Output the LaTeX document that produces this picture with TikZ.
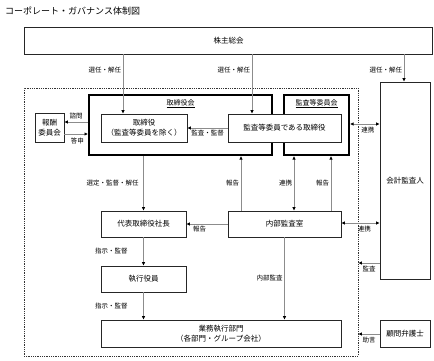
\documentclass[tikz,border=0pt]{standalone}
\usepackage{fontspec}
\setmainfont{Noto Sans CJK JP}
\usetikzlibrary{arrows.meta, positioning}

\begin{document}
\begin{tikzpicture}[
    x=1pt, y=-1pt,
    >={Latex[length=3.5pt, width=3.5pt, color=black]},
    unit/.style={rectangle, draw=black!85, fill=white, line width=0.8pt, inner sep=0pt, align=center, font=\fontsize{7.5}{10}\selectfont},
    board/.style={rectangle, draw=black, line width=2pt, inner sep=0pt},
    frame/.style={rectangle, draw=black!80, line width=0.8pt, dash pattern=on 1pt off 0.8pt, inner sep=0pt},
    link/.style={draw=black!45, line width=0.8pt},
    tag/.style={font=\fontsize{6.5}{8}\selectfont, inner sep=1.5pt}
]
\useasboundingbox (0,0) rectangle (434,360);

% Title
\node[anchor=west, font=\fontsize{9}{11}\selectfont, inner sep=0pt] (title) at (5,11) {コーポレート・ガバナンス体制図};

% Frame and committees
\node[frame, minimum width=334, minimum height=268] (frame) at (191,222) {};
\node[board, minimum width=183, minimum height=60] (board) at (180.5,125) {};
\node[board, minimum width=65, minimum height=60] (ace) at (316.5,125) {};
\node[tag, font=\fontsize{7}{9}\selectfont, below=4pt of board.north] (boardname) {\underline{取締役会}};
\node[tag, font=\fontsize{7}{9}\selectfont, below=4pt of ace.north] (acename) {\underline{監査等委員会}};

% Nodes
\node[unit, minimum width=408, minimum height=27] (agm) at (228.5,40.5) {株主総会};
\node[unit, minimum width=86, minimum height=28] (directors) at (144,128) {取締役\\（監査等委員を除く）};
\node[unit, minimum width=113, minimum height=28] (acdir) at (284.5,128) {監査等委員である取締役};
\node[unit, minimum width=29, minimum height=29] (comp) at (49.5,127.5) {報酬\\委員会};
\node[unit, minimum width=50, minimum height=197] (auditor) at (405,180.5) {会計監査人};
\node[unit, minimum width=85, minimum height=26] (ceo) at (143.5,224) {代表取締役社長};
\node[unit, minimum width=113, minimum height=26] (iad) at (284.5,224) {内部監査室};
\node[unit, minimum width=85, minimum height=26] (officers) at (143.5,279) {執行役員};
\node[unit, minimum width=240, minimum height=27] (ops) at (221,333.5) {業務執行部門\\（各部門・グループ会社）};
\node[unit, minimum width=50, minimum height=27] (lawyer) at (405,333.5) {顧問弁護士};

% Connectors
\draw[link, ->] (123,0 |- agm.south) -- node[tag, left, pos=0.27] {選任・解任} (123,0 |- directors.north);
\draw[link, ->] (252,0 |- agm.south) -- node[tag, left, pos=0.27] {選任・解任} (252,0 |- acdir.north);
\draw[link, ->] (404,0 |- agm.south) -- node[tag, left, pos=0.57] {選任・解任} (404,0 |- auditor.north);
\draw[link, ->] (board.west |- 0,122) -- node[tag, above, pos=0.5, yshift=1pt] {諮問} (comp.east |- 0,122);
\draw[link, ->] (comp.east |- 0,134) -- node[tag, below, pos=0.55, yshift=-2pt] {答申} (board.west |- 0,134);
\draw[link, ->] (acdir.west |- 0,128) -- node[tag, below, pos=0.5] {監査・監督} (directors.east |- 0,128);
\draw[link, <->] (ace.east |- 0,124) -- node[tag, below, pos=0.6, yshift=-1pt] {連携} (auditor.west |- 0,124);

\draw[link, ->] (board.south -| ceo.north) -- node[tag, left=3pt, pos=0.5] {選定・監督・解任} (ceo.north);
\draw[link, ->] (ceo) -- node[tag, left=14pt, pos=0.5] {指示・監督} (officers);
\draw[link, ->] (officers) -- node[tag, left=14pt, pos=0.5] {指示・監督} (officers.south |- ops.north);
\draw[link, ->] (iad.west) -- node[tag, below, pos=0.68] {報告} (ceo.east);
\draw[link, ->] (241,0 |- iad.north) -- node[tag, left, pos=0.5] {報告} (241,0 |- board.south);
\draw[link, <->] (294,0 |- iad.north) -- node[tag, left, pos=0.5] {連携} (294,0 |- ace.south);
\draw[link, ->] (331,0 |- iad.north) -- node[tag, left, pos=0.5] {報告} (331,0 |- ace.south);
\draw[link, <->] (iad.east |- 0,223) -- node[tag, below, pos=0.6, yshift=-1pt] {連携} (auditor.west |- 0,223);
\draw[link, ->] (iad.south) -- node[tag, left, pos=0.5] {内部監査} (iad.south |- ops.north);
\draw[link, ->] (auditor.west |- 0,263) -- node[tag, below, pos=0.5, yshift=-1pt] {監査} (frame.east |- 0,263);
\draw[link, ->] (lawyer.west |- 0,334) -- node[tag, below, pos=0.5, yshift=-1pt] {助言} (frame.east |- 0,334);

\end{tikzpicture}
\end{document}
